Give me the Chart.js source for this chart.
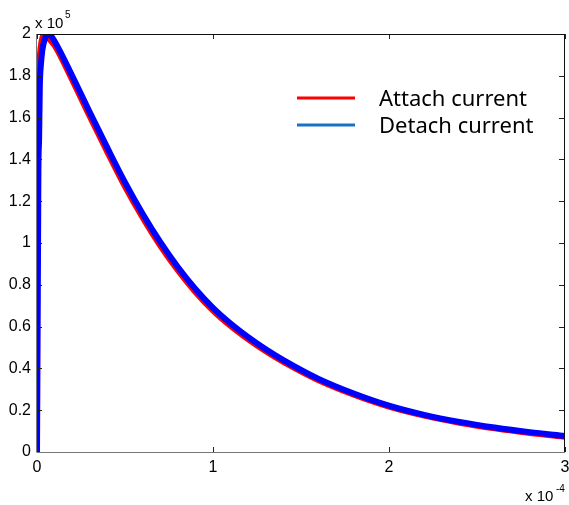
<!DOCTYPE html>
<html>
<head>
<meta charset="utf-8">
<script src="https://cdn.jsdelivr.net/npm/chart.js@4.4.0/dist/chart.umd.min.js"></script>
<style>
  html, body { margin: 0; padding: 0; background: #fff; }
  #wrap { width: 569px; height: 505px; }
</style>
</head>
<body>
<div id="wrap"><canvas id="c" width="569" height="505"></canvas></div>
<script>
"use strict";

/* time in units of 1e-4, current in units of 1e5 */
var attachTime = [0, 0.002, 0.005, 0.009, 0.015, 0.025, 0.04, 0.06, 0.1, 0.2, 0.3, 0.4, 0.5, 0.6, 0.7, 0.8, 0.9, 1.0, 1.1, 1.2, 1.3, 1.4, 1.6, 1.8, 2.0, 2.2, 2.4, 2.6, 2.8, 3.0];
var attachCurrent = [0, 1.4, 1.55, 1.75, 1.88, 1.96, 2.0, 1.985, 1.945, 1.78, 1.605, 1.435, 1.27, 1.122, 0.988, 0.87, 0.766, 0.677, 0.603, 0.539, 0.482, 0.431, 0.343, 0.274, 0.217, 0.174, 0.14, 0.113, 0.091, 0.073];

var detachTime = [0, 0.003, 0.006, 0.008, 0.012, 0.016, 0.022, 0.03, 0.042, 0.055, 0.065, 0.08, 0.1, 0.2, 0.3, 0.4, 0.5, 0.6, 0.7, 0.8, 0.9, 1.0, 1.1, 1.2, 1.3, 1.4, 1.6, 1.8, 2.0, 2.2, 2.4, 2.6, 2.8, 3.0];
var detachCurrent = [0, 0.52, 1.0, 1.35, 1.5, 1.75, 1.85, 1.92, 1.97, 1.995, 2.0, 1.99, 1.965, 1.80, 1.625, 1.455, 1.29, 1.14, 1.005, 0.885, 0.78, 0.69, 0.615, 0.55, 0.492, 0.44, 0.35, 0.28, 0.222, 0.178, 0.144, 0.117, 0.095, 0.077];

var xTickVals = [0, 1, 2, 3];
var yTickVals = [0, 0.2, 0.4, 0.6, 0.8, 1, 1.2, 1.4, 1.6, 1.8, 2];
var legendLabels = ['Attach current', 'Detach current'];

function pts(xs, ys) {
  return xs.map(function(x, i) { return { x: x, y: ys[i] }; });
}

var TICK_FONT = { family: 'Liberation Sans, Arial, sans-serif', size: 16 };

/* box, inward ticks, exponent labels and legend, MATLAB style */
var framePlugin = {
  id: 'frame',
  afterDatasetsDraw: function(chart) {
    var ctx = chart.ctx, a = chart.chartArea;
    var xs = chart.scales.x, ys = chart.scales.y;
    ctx.save();
    ctx.lineWidth = 1;
    // ticks
    ctx.strokeStyle = '#222';
    xTickVals.forEach(function(v) {
      var px = Math.round(xs.getPixelForValue(v)) + 0.5;
      ctx.beginPath();
      ctx.moveTo(px, a.bottom); ctx.lineTo(px, a.bottom - 5);
      ctx.moveTo(px, a.top); ctx.lineTo(px, a.top + 5);
      ctx.stroke();
    });
    yTickVals.forEach(function(v) {
      var py = Math.round(ys.getPixelForValue(v)) + 0.5;
      ctx.beginPath();
      ctx.moveTo(a.left, py); ctx.lineTo(a.left + 5, py);
      ctx.moveTo(a.right, py); ctx.lineTo(a.right - 6, py);
      ctx.stroke();
    });
    // box
    ctx.strokeStyle = '#111';
    ctx.beginPath();
    ctx.moveTo(a.left, a.top + 0.5); ctx.lineTo(a.right, a.top + 0.5);
    ctx.moveTo(a.right - 0.5, a.top); ctx.lineTo(a.right - 0.5, a.bottom);
    ctx.stroke();
    ctx.strokeStyle = '#777';
    ctx.beginPath();
    ctx.moveTo(a.left - 0.5, a.top); ctx.lineTo(a.left - 0.5, a.bottom + 0.5);
    ctx.moveTo(a.left, a.bottom + 0.5); ctx.lineTo(a.right, a.bottom + 0.5);
    ctx.stroke();
    ctx.restore();
  },
  afterDraw: function(chart) {
    var ctx = chart.ctx;
    ctx.save();
    ctx.fillStyle = '#000';
    ctx.textBaseline = 'alphabetic';
    ctx.textAlign = 'left';
    // exponents
    ctx.font = '15px "Liberation Sans", Arial, sans-serif';
    ctx.fillText('x 10', 35, 28);
    ctx.fillText('x 10', 525, 501);
    ctx.font = '10px "Liberation Sans", Arial, sans-serif';
    ctx.fillText('5', 65, 18);
    ctx.fillText('-4', 556, 492);
    // legend
    var colors = ['#ff0000', '#1a72c4'];
    var rows = [98, 125];
    ctx.font = '22px "Noto Sans", sans-serif';
    legendLabels.forEach(function(lbl, i) {
      ctx.strokeStyle = colors[i];
      ctx.lineWidth = 3;
      ctx.beginPath();
      ctx.moveTo(297, rows[i]); ctx.lineTo(355, rows[i]);
      ctx.stroke();
      ctx.fillStyle = '#000';
      ctx.fillText(lbl, 379, rows[i] + 8);
    });
    ctx.restore();
  }
};

new Chart(document.getElementById('c'), {
  type: 'line',
  data: {
    datasets: [
      {
        label: legendLabels[1],
        data: pts(detachTime, detachCurrent),
        borderColor: '#0000ff',
        borderWidth: 6,
        pointRadius: 0,
        cubicInterpolationMode: 'monotone',
        clip: 0,
        order: 0
      },
      {
        label: legendLabels[0],
        data: pts(attachTime, attachCurrent),
        borderColor: '#ff0000',
        borderWidth: 6,
        pointRadius: 0,
        cubicInterpolationMode: 'monotone',
        clip: 0,
        order: 1
      }
    ]
  },
  options: {
    responsive: false,
    animation: false,
    events: [],
    layout: { padding: { top: 34, right: 4, left: 0, bottom: 0 } },
    plugins: { legend: { display: false }, tooltip: { enabled: false } },
    scales: {
      x: {
        type: 'linear', min: 0, max: 3,
        grid: { display: false, drawTicks: false },
        border: { display: false },
        afterBuildTicks: function(s) { s.ticks = xTickVals.map(function(v) { return { value: v }; }); },
        afterFit: function(s) { s.height = 53; s.paddingLeft = 0; s.paddingRight = 0; },
        ticks: { color: '#000', font: TICK_FONT, padding: 6, maxRotation: 0, autoSkip: false,
          callback: function(v) { return String(v); } }
      },
      y: {
        type: 'linear', min: 0, max: 2,
        grid: { display: false, drawTicks: false },
        border: { display: false },
        afterBuildTicks: function(s) { s.ticks = yTickVals.map(function(v) { return { value: v }; }); },
        afterFit: function(s) { s.width = 37; s.paddingTop = 0; s.paddingBottom = 0; },
        ticks: { color: '#000', font: TICK_FONT, padding: 6, autoSkip: false,
          callback: function(v) { return String(Number(v.toFixed(1))); } }
      }
    }
  },
  plugins: [framePlugin]
});
</script>
</body>
</html>
